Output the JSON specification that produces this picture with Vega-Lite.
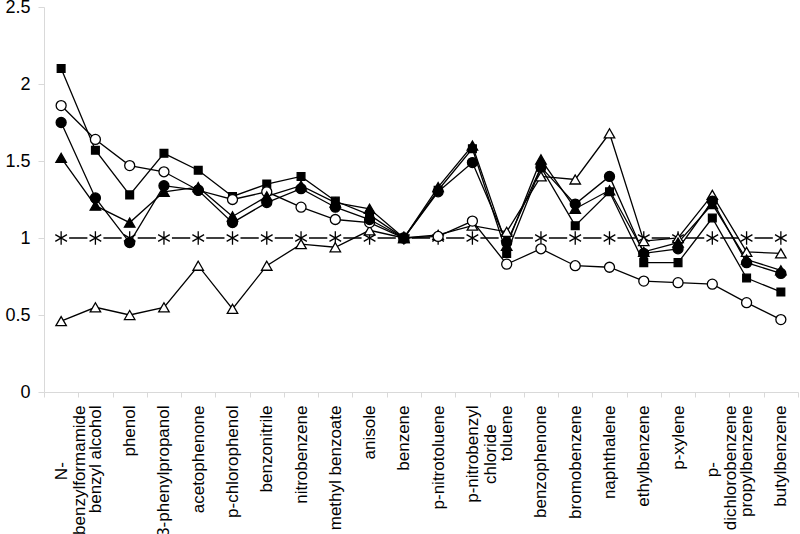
{
  "$schema": "https://vega.github.io/schema/vega-lite/v6.json",
  "autosize": "none",
  "width": 754,
  "height": 385,
  "padding": {"left": 44, "top": 7, "right": 2, "bottom": 142},
  "background": "white",
  "config": {"view": {"stroke": null}, "font": "Liberation Sans"},
  "data": {"values": [
    {"c": "N-|benzylformamide", "sq": 2.1, "oc": 1.86, "fc": 1.75, "ft": 1.52, "ot": 0.46, "ast": 1},
    {"c": "benzyl alcohol", "sq": 1.57, "oc": 1.64, "fc": 1.26, "ft": 1.21, "ot": 0.55, "ast": 1},
    {"c": "phenol", "sq": 1.28, "oc": 1.47, "fc": 0.97, "ft": 1.1, "ot": 0.5, "ast": 1},
    {"c": "3-phenylpropanol", "sq": 1.55, "oc": 1.43, "fc": 1.34, "ft": 1.3, "ot": 0.55, "ast": 1},
    {"c": "acetophenone", "sq": 1.44, "oc": 1.31, "fc": 1.31, "ft": 1.33, "ot": 0.82, "ast": 1},
    {"c": "p-chlorophenol", "sq": 1.27, "oc": 1.25, "fc": 1.1, "ft": 1.14, "ot": 0.54, "ast": 1},
    {"c": "benzonitrile", "sq": 1.35, "oc": 1.3, "fc": 1.23, "ft": 1.27, "ot": 0.82, "ast": 1},
    {"c": "nitrobenzene", "sq": 1.4, "oc": 1.2, "fc": 1.32, "ft": 1.34, "ot": 0.96, "ast": 1},
    {"c": "methyl benzoate", "sq": 1.24, "oc": 1.12, "fc": 1.2, "ft": 1.23, "ot": 0.94, "ast": 1},
    {"c": "anisole", "sq": 1.15, "oc": 1.1, "fc": 1.12, "ft": 1.19, "ot": 1.05, "ast": 1},
    {"c": "benzene", "sq": 1.0, "oc": 1.0, "fc": 1.0, "ft": 1.0, "ot": 1.0, "ast": 1},
    {"c": "p-nitrotoluene", "sq": 1.31, "oc": 1.01, "fc": 1.3, "ft": 1.33, "ot": 1.02, "ast": 1},
    {"c": "p-nitrobenzyl|chloride", "sq": 1.58, "oc": 1.11, "fc": 1.49, "ft": 1.6, "ot": 1.08, "ast": 1},
    {"c": "toluene", "sq": 0.9, "oc": 0.83, "fc": 0.97, "ft": 0.95, "ot": 1.04, "ast": 1},
    {"c": "benzophenone", "sq": 1.46, "oc": 0.93, "fc": 1.46, "ft": 1.51, "ot": 1.4, "ast": 1},
    {"c": "bromobenzene", "sq": 1.08, "oc": 0.82, "fc": 1.22, "ft": 1.19, "ot": 1.38, "ast": 1},
    {"c": "naphthalene", "sq": 1.3, "oc": 0.81, "fc": 1.4, "ft": 1.31, "ot": 1.68, "ast": 1},
    {"c": "ethylbenzene", "sq": 0.84, "oc": 0.72, "fc": 0.9, "ft": 0.91, "ot": 0.98, "ast": 1},
    {"c": "p-xylene", "sq": 0.84, "oc": 0.71, "fc": 0.93, "ft": 0.97, "ot": 1.0, "ast": 1},
    {"c": "p-|dichlorobenzene", "sq": 1.13, "oc": 0.7, "fc": 1.24, "ft": 1.22, "ot": 1.28, "ast": 1},
    {"c": "propylbenzene", "sq": 0.74, "oc": 0.58, "fc": 0.84, "ft": 0.86, "ot": 0.91, "ast": 1},
    {"c": "butylbenzene", "sq": 0.65, "oc": 0.47, "fc": 0.77, "ft": 0.79, "ot": 0.9, "ast": 1}
  ]},
  "transform": [{"fold": ["ast", "ot", "sq", "oc", "fc", "ft"], "as": ["series", "value"]}],
  "encoding": {
    "x": {
      "field": "c", "type": "nominal", "sort": null,
      "scale": {"type": "band", "paddingInner": 0, "paddingOuter": 0},
      "axis": {
        "title": null, "labelAngle": -90,
        "labelExpr": "datum.label == 'N-|benzylformamide' ? ['N-\u00a0\u00a0\u00a0\u00a0\u00a0\u00a0\u00a0\u00a0\u00a0\u00a0\u00a0\u00a0\u200b', 'benzylformamide'] : datum.label == 'p-nitrobenzyl|chloride' ? ['p-nitrobenzyl', 'chloride\u00a0\u00a0\u00a0\u00a0\u200b'] : datum.label == 'p-|dichlorobenzene' ? ['p-\u00a0\u00a0\u00a0\u00a0\u00a0\u00a0\u00a0\u00a0\u00a0\u00a0\u00a0\u00a0\u200b', 'dichlorobenzene'] : datum.label",
        "labelFontSize": 17, "labelColor": "#000", "labelLimit": 200, "labelPadding": 8,
        "labelLineHeight": 18,
        "tickBand": "extent", "domainColor": "#d9d9d9", "tickColor": "#d9d9d9", "tickSize": 5
      }
    },
    "y": {
      "field": "value", "type": "quantitative",
      "scale": {"domain": [0, 2.5], "nice": false},
      "axis": {
        "title": null, "values": [0, 0.5, 1, 1.5, 2, 2.5], "grid": false, "format": "~g",
        "labelFontSize": 18, "labelColor": "#000", "labelPadding": 8,
        "domainColor": "#d9d9d9", "tickColor": "#d9d9d9", "tickSize": 6
      }
    }
  },
  "layer": [
    {
      "transform": [{"filter": "datum.series == 'ast'"}],
      "mark": {"type": "line", "color": "black", "strokeWidth": 1.3, "strokeDash": [18.27, 16], "strokeDashOffset": 26.27},
      "encoding": {}
    },
    {
      "transform": [{"filter": "datum.series != 'ast'"}],
      "mark": {"type": "line", "color": "black", "strokeWidth": 1.3},
      "encoding": {"detail": {"field": "series"}}
    },
    {
      "mark": {"type": "point", "filled": false, "stroke": "black", "strokeWidth": 1.3, "opacity": 1},
      "encoding": {
        "shape": {"field": "series", "type": "nominal", "legend": null,
          "scale": {"domain": ["ast", "ot", "sq", "oc", "fc", "ft"],
            "range": ["M0,-1L0,1M-0.87,-0.5L0.87,0.5M-0.87,0.5L0.87,-0.5", "triangle-up", "square", "circle", "circle", "triangle-up"]}},
        "fill": {"field": "series", "type": "nominal", "legend": null,
          "scale": {"domain": ["ast", "ot", "sq", "oc", "fc", "ft"],
            "range": ["black", "white", "black", "white", "black", "black"]}},
        "size": {"field": "series", "type": "nominal", "legend": null,
          "scale": {"type": "ordinal", "domain": ["ast", "ot", "sq", "oc", "fc", "ft"],
            "range": [180, 110, 60, 100, 100, 110]}}
      }
    }
  ]
}
